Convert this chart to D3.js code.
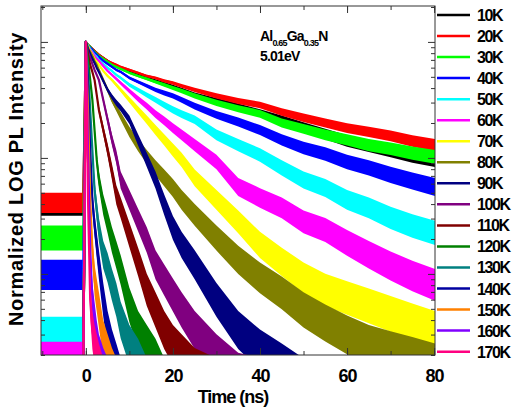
<!DOCTYPE html>
<html><head><meta charset="utf-8">
<script src="https://cdn.jsdelivr.net/npm/d3@7/dist/d3.min.js"></script>
<style>body{margin:0;background:#fff} text{font-family:"Liberation Sans",Arial,sans-serif;font-weight:bold;fill:#000}</style>
</head><body><svg id="c" width="513" height="410"></svg>
<script>
// ---- data (normalized PL intensity) ----
const temps = ["10K","20K","30K","40K","50K","60K","70K","80K","90K","100K","110K","120K","130K","140K","150K","160K","170K"];
const colors = ["#000000","#ff0000","#00ff00","#0000ff","#00ffff","#ff00ff","#ffff00","#808000","#000080","#800080","#800000","#008000","#008080","#0000a0","#ff8000","#8000ff","#ff0080"];
const times = [-10.3,-5,-0.6,0,0.5,1,1.5,2,2.5,3,4,5,6,7,8,10,12,14,16,18,20,22,25,30,35,40,45,50,55,60,65,70,75,80.2];
const xTicks = [0,20,40,60,80];

const int10K = [0.039,0.039,0.039,1,0.942,0.906,0.870,0.836,0.804,0.773,0.728,0.686,0.646,0.621,0.597,0.551,0.520,0.489,0.461,0.435,0.410,0.386,0.349,0.310,0.275,0.244,0.213,0.185,0.161,0.140,0.127,0.115,0.104,0.0961];
const int20K = [0.041,0.041,0.041,1,0.942,0.906,0.870,0.836,0.804,0.773,0.728,0.686,0.659,0.634,0.609,0.574,0.541,0.509,0.489,0.461,0.443,0.418,0.386,0.342,0.310,0.286,0.249,0.222,0.200,0.181,0.168,0.155,0.140,0.129];
const int30K = [0.0204,0.0204,0.0204,1,0.942,0.906,0.853,0.820,0.788,0.757,0.714,0.672,0.634,0.609,0.585,0.541,0.509,0.480,0.452,0.426,0.401,0.378,0.342,0.298,0.265,0.240,0.200,0.178,0.158,0.143,0.129,0.120,0.110,0.102];
const int40K = [0.0098,0.0098,0.0098,1,0.924,0.888,0.853,0.804,0.773,0.743,0.686,0.646,0.609,0.574,0.551,0.489,0.452,0.418,0.386,0.363,0.342,0.316,0.280,0.235,0.204,0.174,0.143,0.122,0.108,0.0924,0.0820,0.0714,0.0633,0.0562];
const int50K = [0.0029,0.0029,0.0029,1,0.924,0.870,0.820,0.773,0.743,0.700,0.646,0.597,0.562,0.520,0.489,0.426,0.386,0.349,0.316,0.286,0.259,0.239,0.213,0.158,0.129,0.106,0.0820,0.0646,0.0551,0.0435,0.0371,0.0304,0.0259,0.0226];
const int60K = [0.0017,0.0017,0.0017,1,0.906,0.853,0.804,0.757,0.714,0.686,0.621,0.562,0.520,0.480,0.443,0.378,0.323,0.280,0.239,0.209,0.181,0.158,0.129,0.0923,0.0562,0.0452,0.0371,0.0281,0.0239,0.0185,0.0146,0.0117,0.00961,0.00803];
const int70K = [0.0012,0.0012,0.0012,1,0.906,0.836,0.773,0.714,0.672,0.634,0.562,0.509,0.470,0.426,0.386,0.316,0.259,0.213,0.174,0.143,0.117,0.0961,0.0672,0.0435,0.0281,0.0178,0.0127,0.00924,0.00728,0.00621,0.00530,0.00452,0.00386,0.00329];
const int80K = [0.0012,0.0012,0.0012,1,0.888,0.820,0.757,0.686,0.634,0.574,0.470,0.386,0.316,0.270,0.230,0.168,0.129,0.102,0.0820,0.0672,0.0551,0.0435,0.0323,0.0204,0.0132,0.00924,0.00686,0.00489,0.00378,0.00298,0.00244,0.00213,0.00189,0.00164];
const int90K = [0.0012,0.0012,0.0012,1,0.870,0.788,0.714,0.659,0.597,0.551,0.461,0.386,0.336,0.298,0.270,0.213,0.143,0.0961,0.0646,0.0394,0.0249,0.0178,0.0120,0.00597,0.00329,0.00221,0.00164,0.0012];
const int100K = [0.0012,0.0012,0.0012,1,0.820,0.728,0.646,0.574,0.520,0.470,0.316,0.213,0.143,0.102,0.0646,0.0435,0.0292,0.0196,0.0120,0.00887,0.00659,0.00489,0.00329,0.00200,0.00135,0.0012];
const int110K = [0.0012,0.0012,0.0012,1,0.773,0.634,0.551,0.470,0.349,0.259,0.174,0.117,0.0757,0.0480,0.0371,0.0217,0.0127,0.00728,0.00489,0.00329,0.00244,0.00200,0.00149,0.0012];
const int120K = [0.0012,0.0012,0.0012,1,0.700,0.470,0.316,0.174,0.0961,0.0646,0.0394,0.0281,0.0196,0.0146,0.0108,0.00540,0.00329,0.00244,0.00182,0.0012];
const int130K = [0.0012,0.0012,0.0012,1,0.574,0.259,0.117,0.0530,0.0356,0.0239,0.0146,0.0113,0.00803,0.00597,0.00401,0.00244,0.00182,0.0012];
const int140K = [0.0012,0.0012,0.0012,1,0.426,0.117,0.0435,0.0264,0.0178,0.0120,0.00597,0.00329,0.00221,0.00164,0.0012];
const int150K = [0.0012,0.0012,0.0012,1,0.259,0.0435,0.0161,0.00887,0.00659,0.00489,0.00270,0.00200,0.00149,0.0012];
const int160K = [0.0012,0.0012,0.0012,1,0.117,0.0161,0.00597,0.00401,0.00270,0.00200,0.00149,0.0012];
const int170K = [0.0012,0.0012,0.0012,1,0.0435,0.00597,0.00329,0.00244,0.00200,0.00164,0.0012];

const seriesValues = [int10K,int20K,int30K,int40K,int50K,int60K,int70K,int80K,int90K,int100K,int110K,int120K,int130K,int140K,int150K,int160K,int170K];

// ---- chart ----
const svg = d3.select("#c");
const L = 41, R = 435, T = 6, B = 355;
const x = d3.scaleLinear().domain([-10.3, 80.2]).range([L, R]);
const y = d3.scaleLog().domain([0.002, 2.04]).range([B, T]);

svg.append("defs").append("clipPath").attr("id","clip")
  .append("rect").attr("x",L).attr("y",T).attr("width",R-L).attr("height",B-T);

const plot = svg.append("g").attr("clip-path","url(#clip)");
// noise band half-width (in decades) grows as the signal falls
const halfW = v => Math.max(0.01, 0.07*(-Math.log10(v)) - 0.01);

seriesValues.forEach((vals, si) => {
  const pts = vals.map((v,i) => [times[i], Math.max(v, 0.0008)]);
  const area = d3.area()
    .x(d => x(d[0]))
    .y0(d => y(d[1] / Math.pow(10, halfW(d[1]))))
    .y1(d => y(d[1] * Math.pow(10, halfW(d[1]))));
  plot.append("path").attr("d", area(pts)).attr("fill", colors[si]).attr("stroke","none");
  const line = d3.line().x(d => x(d[0])).y(d => y(d[1]));
  plot.append("path").attr("d", line(pts)).attr("fill","none")
    .attr("stroke", colors[si]).attr("stroke-width", 2.2).attr("stroke-linejoin","round");
});

// frame
svg.append("rect").attr("x",L).attr("y",T).attr("width",R-L).attr("height",B-T)
  .attr("fill","none").attr("stroke","#333").attr("stroke-width",1);

// axes with inward ticks
const axisColor = "#333";
const xMinor = d3.range(-10, 81, 10);
svg.append("g").attr("transform",`translate(0,${B})`)
  .call(d3.axisBottom(x).tickValues(xMinor).tickSize(-4).tickFormat(""));
const bot2 = svg.append("g").attr("transform",`translate(0,${B})`)
  .call(d3.axisBottom(x).tickValues(xTicks).tickSize(-7).tickPadding(14).tickFormat(d3.format("d")));
svg.append("g").attr("transform",`translate(0,${T})`)
  .call(d3.axisTop(x).tickValues(xMinor).tickSize(-4).tickFormat(""));
svg.append("g").attr("transform",`translate(0,${T})`)
  .call(d3.axisTop(x).tickValues(xTicks).tickSize(-7).tickFormat(""));

const yMajor = [0.01, 0.1, 1];
const yMinor = [];
[0.001, 0.01, 0.1, 1].forEach(dec => { for (let k = 2; k <= 9; k++) { const v = dec*k; if (v >= 0.002 && v <= 2.04) yMinor.push(v); } });
svg.append("g").attr("transform",`translate(${L},0)`)
  .call(d3.axisLeft(y).tickValues(yMinor).tickSize(-4).tickFormat(""));
svg.append("g").attr("transform",`translate(${L},0)`)
  .call(d3.axisLeft(y).tickValues(yMajor).tickSize(-7).tickFormat(""));
svg.append("g").attr("transform",`translate(${R},0)`)
  .call(d3.axisRight(y).tickValues(yMinor).tickSize(-4).tickFormat(""));
svg.append("g").attr("transform",`translate(${R},0)`)
  .call(d3.axisRight(y).tickValues(yMajor).tickSize(-7).tickFormat(""));

svg.selectAll(".domain").remove();
svg.selectAll(".tick line").attr("stroke", axisColor).attr("stroke-width",1);
bot2.selectAll("text").style("font-size","18px").style("letter-spacing","-1px")
  .style("font-family","'Liberation Sans',Arial,sans-serif").style("font-weight","bold").attr("fill","#000");

// axis titles
svg.append("text").attr("x",233).attr("y",403).attr("text-anchor","middle")
  .style("font-size","18px").style("letter-spacing","-1px").text("Time (ns)");
svg.append("text").attr("transform","translate(23,179) rotate(-90)").attr("text-anchor","middle")
  .style("font-size","20px").style("letter-spacing","0.7px").text("Normalized LOG PL Intensity");

// annotation
const ann = svg.append("text").attr("x",260).attr("y",41).style("font-size","14px").style("letter-spacing","-0.8px");
ann.append("tspan").text("Al");
ann.append("tspan").attr("dy",5).style("font-size","9px").text("0.65");
ann.append("tspan").attr("dy",-5).text("Ga");
ann.append("tspan").attr("dy",5).style("font-size","9px").text("0.35");
ann.append("tspan").attr("dy",-5).text("N");
svg.append("text").attr("x",260).attr("y",61).style("font-size","14px").style("letter-spacing","-0.8px").text("5.01eV");

// legend
const lg = svg.append("g");
temps.forEach((name, i) => {
  const yy = 15 + i*21.04;
  lg.append("line").attr("x1",437).attr("x2",470).attr("y1",yy).attr("y2",yy)
    .attr("stroke",colors[i]).attr("stroke-width",2.5);
  lg.append("text").attr("x",477).attr("y",yy+6).style("font-size","16px")
    .style("letter-spacing","-1.4px").text(name);
});
</script>
</body></html>
